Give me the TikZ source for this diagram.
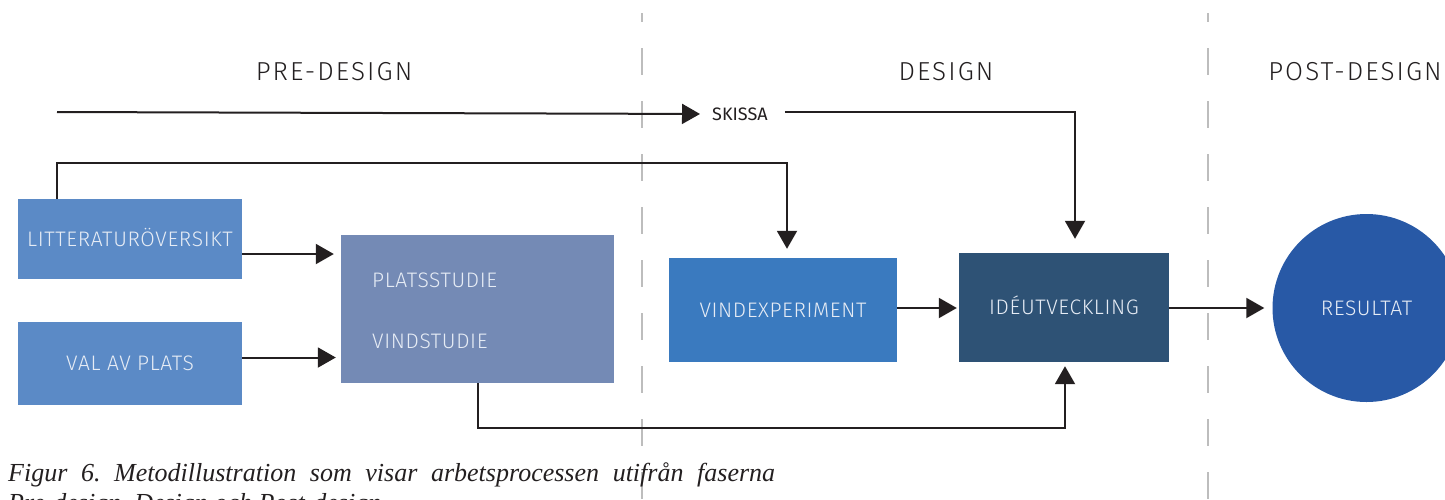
\documentclass[tikz,border=0pt]{standalone}
\usepackage{fontspec}
\setmainfont{Liberation Serif}
\newfontfamily\boxfont{Fira Sans}[UprightFont=* Light, LetterSpace=3]
\newfontfamily\phasefont{Fira Sans}[UprightFont=* Light, LetterSpace=8]
\newfontfamily\notefont{Fira Sans}
\usetikzlibrary{arrows.meta,positioning}
\frenchspacing

\definecolor{ink}{HTML}{231F20}
\definecolor{boxtext}{HTML}{E6ECF5}
\definecolor{litblue}{HTML}{5B8AC6}
\definecolor{studyblue}{HTML}{748AB5}
\definecolor{expblue}{HTML}{3A7ABF}
\definecolor{ideablue}{HTML}{2E5275}
\definecolor{resblue}{HTML}{2859A6}
\definecolor{divider}{HTML}{BDBDBD}

\begin{document}
\begin{tikzpicture}[x=1pt,y=-1pt,
    >={Triangle[length=18pt,width=20pt]},
    box/.style={rectangle, fill=#1, text=boxtext, inner sep=0pt,
      font=\boxfont\fontsize{21}{25}\selectfont, text height=14pt, text depth=0pt},
    phase/.style={anchor=base, text=ink, inner sep=0pt,
      font=\phasefont\fontsize{26}{30}\selectfont},
    flow/.style={->, draw=ink, line width=2pt},
    phaseline/.style={draw=divider, line width=2pt,
      dash pattern=on 27pt off 26pt, dash phase=18pt}]
    \useasboundingbox (0,0) rectangle (1445,499);

    \draw[phaseline] (642,13) -- (642,499);
    \draw[phaseline] (1208,13) -- (1208,499);

    \node[phase] (pre) at (334,80) {PRE-DESIGN};
    \node[phase] (des) at (946,80) {DESIGN};
    \node[phase] (post) at (1355,80) {POST-DESIGN};

    \node[box=litblue, minimum width=224pt, minimum height=80pt] (lit) at (130,239) {LITTERATURÖVERSIKT};
    \node[box=litblue, minimum width=224pt, minimum height=83pt] (val) at (130,363.5) {VAL AV PLATS};
    \node[box=studyblue, minimum width=273pt, minimum height=148pt] (plats) at (477.5,309) {};
    \node[box=studyblue, anchor=west] (platstxt) at (372,280) {PLATSSTUDIE};
    \node[box=studyblue, anchor=west] (vindtxt) at (372,341) {VINDSTUDIE};
    \node[box=expblue, minimum width=228pt, minimum height=104pt] (vind) at (783,310) {VINDEXPERIMENT};
    \node[box=ideablue, minimum width=210pt, minimum height=109pt] (ide) at (1064,307.5) {IDÉUTVECKLING};
    \node[box=resblue, circle, minimum size=188pt] (res) at (1366.5,308) {RESULTAT};

    \coordinate (skstart) at (57,112);
    \node[anchor=west, inner sep=0pt, text=ink, font=\notefont\fontsize{18}{22}\selectfont] (skissa) at (712,114) {SKISSA};

    \draw[flow, shorten >=12pt] (skstart) -- (skissa.west);
    \draw[flow, shorten >=14pt] ([xshift=17pt,yshift=2pt]skissa.east) -| ([xshift=11pt]ide.north);
    \draw[flow, shorten >=9pt] ([xshift=-73pt]lit.north) -- ++(0,-36) -| ([xshift=4pt]vind.north);
    \draw[flow, shorten >=7pt] ([yshift=-15pt]lit.east) -- ([yshift=-15pt]lit.east -| plats.west);
    \draw[flow, shorten >=5pt] ([yshift=6pt]val.east) -- ([yshift=6pt]val.east -| plats.west);
    \draw[flow, shorten >=4pt] (plats.south) -- ++(0,45) -| ([xshift=1pt]ide.south);
    \draw[flow, shorten >=2pt] ([yshift=2pt]vind.east) -- ([yshift=2pt]vind.east -| ide.west);
    \draw[flow, shorten >=8pt] ([yshift=-0.5pt]ide.east) -- ([yshift=-0.5pt]ide.east -| res.west);

    \node[anchor=base west, inner sep=0pt, text=ink, font=\itshape\fontsize{26}{30}\selectfont] (cap) at (8,481)
      {\makebox[767pt][s]{Figur 6. Metodillustration som visar arbetsprocessen utifrån faserna}};
    \node[anchor=base west, inner sep=0pt, text=ink, font=\itshape\fontsize{26}{30}\selectfont] (cap2) at (8,511)
      {Pre-design, Design och Post-design};
\end{tikzpicture}
\end{document}
